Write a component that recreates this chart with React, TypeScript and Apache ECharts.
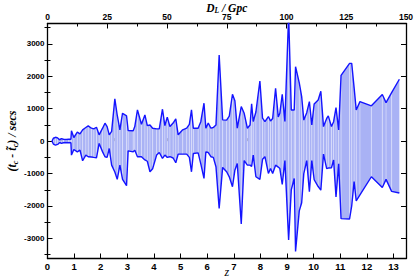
import React, { useEffect, useRef } from "react";
import * as echarts from "echarts";

const zVals: number[] = [
  0.17, 0.22, 0.3, 0.38, 0.46, 0.52, 0.6, 0.7, 0.8, 0.88,
  0.9, 0.99, 1.12, 1.22, 1.32, 1.44, 1.53, 1.65, 1.74, 1.84,
  1.94, 2.07, 2.16, 2.24, 2.32, 2.41, 2.53, 2.62, 2.72, 2.82,
  2.97, 3.03, 3.22, 3.28, 3.38, 3.53, 3.66, 3.75, 3.85, 3.95,
  4.1, 4.2, 4.32, 4.41, 4.5, 4.6, 4.72, 4.82, 4.91, 5.08,
  5.23, 5.33, 5.41, 5.48, 5.66, 5.76, 5.88, 5.95, 6.04, 6.14,
  6.23, 6.33, 6.45, 6.58, 6.73, 6.83, 6.95, 7.04, 7.13, 7.28,
  7.39, 7.51, 7.61, 7.67, 7.73, 7.83, 7.98, 8.08, 8.17, 8.3,
  8.38, 8.46, 8.57, 8.67, 8.73, 8.82, 8.92, 9.06, 9.16, 9.27,
  9.32, 9.46, 9.55, 9.63, 9.74, 9.84, 9.93, 10.02, 10.17, 10.27,
  10.37, 10.49, 10.55, 10.67, 10.75, 10.84, 10.94, 11.03, 11.35, 11.43,
  11.52, 11.6, 11.74, 12.17, 12.58, 12.72, 12.93, 13.22,
];

const upperVals: number[] = [
  0, 90, 120, 100, 40, 80, 60, 50, 60, 60,
  318, 113, 277, 226, 349, 420, 472, 400, 380, 430,
  195, 400, 554, 450, 195, 300, 1303, 800, 349, 862,
  780, 330, 320, 450, 965, 523, 810, 480, 500, 400,
  380, 380, 985, 480, 740, 450, 560, 690, 195, 350,
  400, 520, 965, 400, 400, 600, 1170, 400, 560, 400,
  420, 500, 2657, 656, 650, 770, 1447, 1250, 400, 1067,
  860, 400, 500, 1150, 605, 900, 1857, 708, 600, 760,
  620, 700, 1631, 750, 860, 1447, 605, 3900, 963, 963,
  2298, 1800, 1375, 650, 880, 1220, 500, 1150, 1270, 1540,
  450, 700, 780, 450, 600, 1036, 349, 2030, 2400, 2400,
  1650, 963, 1220, 1090, 1440, 1190, 1500, 1910,
];

const lowerVals: number[] = [
  0, -90, -120, -100, -40, -70, -50, -40, -50, -50,
  -430, -256, -330, -277, -605, -430, -480, -487, -500, -513,
  -72, -330, -480, -500, -226, -740, -950, -1180, -740, -1180,
  -1375, -300, -330, -280, -480, -480, -580, -620, -945, -850,
  -430, -350, -530, -430, -500, -480, -520, -667, -400, -400,
  -400, -500, -945, -380, -360, -700, -1150, -330, -350, -480,
  -500, -790, -2072, -810, -945, -1100, -1405, -900, -687, -2555,
  -600, -740, -740, -780, -431, -1098, -1180, -560, -480, -995,
  -845, -995, -740, -800, -845, -1334, -600, -3050, -1500, -1150,
  -3400, -2150, -1900, -1000, -600, -1560, -600, -1190, -1400, -1510,
  -400, -845, -830, -820, -580, -1720, -700, -2390, -2400, -2000,
  -1250, -1840, -1660, -1098, -1430, -1180, -1550, -1600,
];

const zTicks: number[] = [0, 1, 2, 3, 4, 5, 6, 7, 8, 9, 10, 11, 12, 13];
const zMinorTicks: number[] = [0.5, 1.5, 2.5, 3.5, 4.5, 5.5, 6.5, 7.5, 8.5, 9.5, 10.5, 11.5, 12.5, 13.5];
const yTicks: number[] = [-3000, -2000, -1000, 0, 1000, 2000, 3000];
const yMinorTicks: number[] = [-3500, -2500, -1500, -500, 500, 1500, 2500, 3500];

const Z_MAX = 13.47;
const Y_MIN = -3620;
const Y_MAX = 3630;

const BLUE = "#1414ff";
const FILL = "#a9b2f5";
const labelFont = { fontFamily: "Liberation Sans", fontWeight: "bold" as const, color: "#000" };
const axisLineStyle = { color: "#000", width: 1.3 };
const tickStyle = { color: "#000", width: 1 };

export default function App() {
  const ref = useRef<HTMLDivElement>(null);
  useEffect(() => {
    if (!ref.current) return;
    const chart = echarts.init(ref.current, null, { renderer: "svg" });
    const segData = zVals.slice(0, -1).map((z, i) => [z, zVals[i + 1], upperVals[i], lowerVals[i]]);
    const option: any = {
      animation: false,
      backgroundColor: "#fff",
      grid: { left: 47.5, right: 9, top: 23.5, bottom: 18.5, outerBoundsMode: "none", containLabel: false },
      xAxis: [
        {
          type: "value", position: "bottom", min: 0, max: Z_MAX,
          name: "z", nameLocation: "middle", nameGap: 7, nameMoveOverlap: false,
          nameTextStyle: { fontFamily: "Liberation Serif", fontStyle: "italic", fontSize: 12, color: "#000" },
          axisLine: { show: true, onZero: false, lineStyle: axisLineStyle },
          axisTick: { show: true, inside: true, length: 5, customValues: zTicks, lineStyle: tickStyle },
          axisLabel: { ...labelFont, fontSize: 9.5, margin: 3, customValues: zTicks, formatter: (v: number) => String(v) },
          splitLine: { show: false },
        },
        {
          type: "value", position: "top", min: 0, max: 150, interval: 25,
          name: "{b|D}{s|L}{b| / Gpc}", nameLocation: "middle", nameGap: 10, nameMoveOverlap: false,
          nameTextStyle: {
            rich: {
              b: { fontFamily: "Liberation Serif", fontStyle: "italic", fontWeight: "bold", fontSize: 11.5, lineHeight: 12, color: "#000" },
              s: { fontFamily: "Liberation Serif", fontStyle: "italic", fontWeight: "bold", fontSize: 7.5, lineHeight: 8, color: "#000", padding: [5, 0, 0, 0] },
            },
          },
          axisLine: { show: true, onZero: false, lineStyle: axisLineStyle },
          axisTick: { show: true, inside: true, length: 5, lineStyle: tickStyle },
          minorTick: { show: true, splitNumber: 2, length: 3, lineStyle: tickStyle },
          axisLabel: { ...labelFont, fontSize: 8.5, margin: 2, formatter: (v: number) => String(v) },
          splitLine: { show: false },
          minorSplitLine: { show: false },
        },
        {
          type: "value", position: "bottom", min: 0, max: Z_MAX,
          axisLine: { show: false },
          axisTick: { show: true, inside: true, length: 3, customValues: zMinorTicks, lineStyle: tickStyle },
          axisLabel: { show: false },
          splitLine: { show: false },
        },
      ],
      yAxis: [
        {
          type: "value", position: "left", min: Y_MIN, max: Y_MAX,
          name: "{p|(t}{s|c}{p| - t\u0303}{s|c}{p|) / secs}", nameLocation: "middle", nameGap: 28, nameRotate: 90, nameMoveOverlap: false,
          nameTextStyle: {
            rich: {
              p: { fontFamily: "Liberation Serif", fontStyle: "italic", fontWeight: "bold", fontSize: 12, color: "#000" },
              s: { fontFamily: "Liberation Serif", fontStyle: "italic", fontWeight: "bold", fontSize: 8, color: "#000", padding: [7, 0, 0, 0] },
            },
          },
          axisLine: { show: true, onZero: false, lineStyle: axisLineStyle },
          axisTick: { show: true, inside: true, length: 5, customValues: yTicks, lineStyle: tickStyle },
          axisLabel: { ...labelFont, fontSize: 8, margin: 3, customValues: yTicks, formatter: (v: number) => String(v) },
          splitLine: { show: false },
        },
        {
          type: "value", position: "right", min: Y_MIN, max: Y_MAX,
          axisLine: { show: true, onZero: false, lineStyle: axisLineStyle },
          axisTick: { show: true, inside: true, length: 5, customValues: yTicks, lineStyle: tickStyle },
          axisLabel: { show: false },
          splitLine: { show: false },
        },
        {
          type: "value", position: "left", min: Y_MIN, max: Y_MAX,
          axisLine: { show: false },
          axisTick: { show: true, inside: true, length: 3, customValues: yMinorTicks, lineStyle: tickStyle },
          axisLabel: { show: false },
          splitLine: { show: false },
        },
        {
          type: "value", position: "right", min: Y_MIN, max: Y_MAX,
          axisLine: { show: false },
          axisTick: { show: true, inside: true, length: 3, customValues: yMinorTicks, lineStyle: tickStyle },
          axisLabel: { show: false },
          splitLine: { show: false },
        },
      ],
      series: [
        {
          type: "custom",
          xAxisIndex: 0, yAxisIndex: 0,
          clip: true,
          silent: true,
          data: segData,
          renderItem: (params: any, api: any) => {
            const i = params.dataIndex;
            const a = api.coord([zVals[i], upperVals[i]]);
            const b = api.coord([zVals[i + 1], upperVals[i + 1]]);
            const c = api.coord([zVals[i + 1], lowerVals[i + 1]]);
            const d = api.coord([zVals[i], lowerVals[i]]);
            return {
              type: "group",
              children: [
                { type: "polygon", shape: { points: [a, b, c, d] }, style: { fill: FILL, stroke: null } },
                { type: "line", shape: { x1: a[0], y1: a[1], x2: d[0], y2: d[1] }, style: { stroke: "#ffffff", lineWidth: 0.7, opacity: 0.55 } },
              ],
            };
          },
          z: 1,
        },
        {
          type: "line", xAxisIndex: 0, yAxisIndex: 0,
          data: zVals.map((z, i) => [z, upperVals[i]]),
          showSymbol: false, symbol: "none",
          lineStyle: { color: BLUE, width: 1.4 },
          z: 3,
        },
        {
          type: "line", xAxisIndex: 0, yAxisIndex: 0,
          data: zVals.map((z, i) => [z, lowerVals[i]]),
          showSymbol: false, symbol: "none",
          lineStyle: { color: BLUE, width: 1.4 },
          z: 3,
        },
      ],
    };
    chart.setOption(option);
    return () => chart.dispose();
  }, []);
  return (
    <div
      ref={ref}
      style={{ position: "fixed", left: 0, top: 0, width: 415, height: 277, background: "#fff" }}
    />
  );
}
